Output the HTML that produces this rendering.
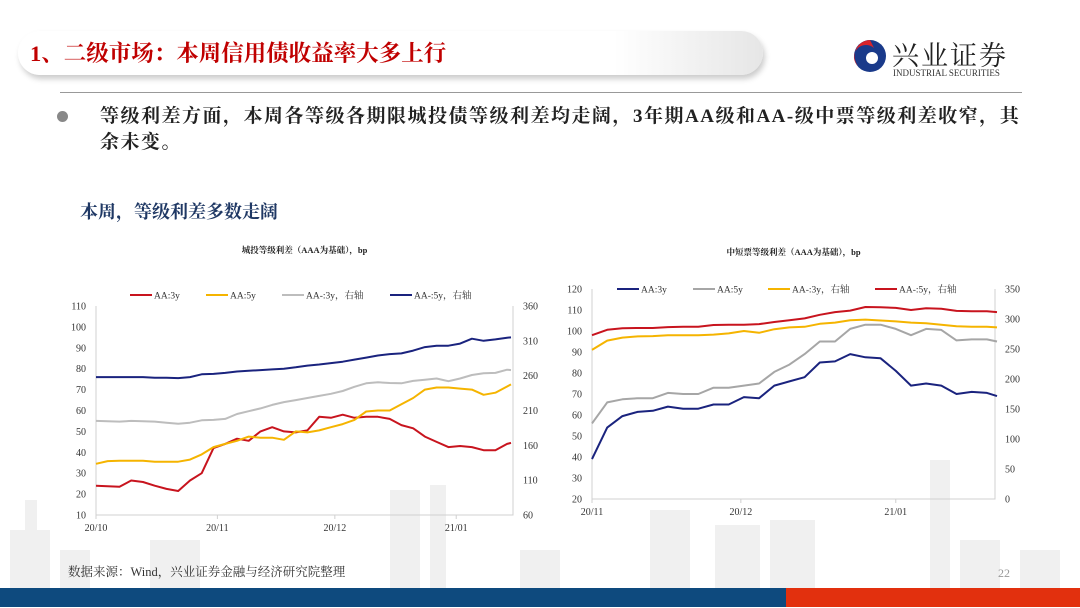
<!DOCTYPE html>
<html><head><meta charset="utf-8">
<style>
body{margin:0;width:1080px;height:608px;overflow:hidden;background:#fff;position:relative;font-family:"Liberation Serif","Noto Serif CJK SC",serif;}
.abs{position:absolute;}
</style></head>
<body>
<!-- skyline background -->
<svg class="abs" style="left:0;top:440px" width="1080" height="150">
<g fill="#f0f0f0">
<rect x="10" y="90" width="40" height="60"/><rect x="25" y="60" width="12" height="40"/><rect x="60" y="110" width="30" height="40"/>
<rect x="150" y="100" width="50" height="50"/><rect x="390" y="50" width="30" height="100"/>
<rect x="430" y="45" width="16" height="105"/><rect x="520" y="110" width="40" height="40"/>
<rect x="650" y="70" width="40" height="80"/><rect x="715" y="85" width="45" height="65"/><rect x="770" y="80" width="45" height="70"/>
<rect x="930" y="20" width="20" height="130"/><rect x="960" y="100" width="40" height="50"/>
<rect x="1020" y="110" width="40" height="40"/></g></svg>

<!-- header pill -->
<div class="abs" style="left:18px;top:31px;width:745px;height:44px;border-radius:22px;background:linear-gradient(90deg,#fff 80%,#e6e6e6 100%);box-shadow:2px 4px 6px #ccc;"></div>
<div class="abs" style="left:30px;top:36px;font-size:22.5px;color:#c00000;font-weight:bold;font-family:'Liberation Serif','Noto Serif CJK SC',serif;">1、二级市场：本周信用债收益率大多上行</div>
<!-- logo -->
<svg class="abs" style="left:852px;top:36px" width="36" height="40">
<circle cx="18" cy="20" r="16" fill="#1a3a8a"/><path d="M18 4 A16 16 0 0 0 6 30 A12 12 0 0 1 22 12 Z" fill="#d8232a"/><circle cx="20" cy="22" r="6" fill="#fff"/></svg>
<div class="abs" style="left:892px;top:34px;font-size:27px;color:#222;font-family:'Noto Serif CJK SC',serif;letter-spacing:2px;">兴业证券</div>
<div class="abs" style="left:893px;top:68px;font-size:9px;color:#333;">INDUSTRIAL SECURITIES</div>
<div class="abs" style="left:60px;top:92px;width:962px;height:1px;background:#999;"></div>
<!-- bullet -->
<div class="abs" style="left:57px;top:111px;width:11px;height:11px;border-radius:50%;background:#888;"></div>
<div class="abs" style="left:100px;top:104px;width:922px;font-size:19px;letter-spacing:1.5px;line-height:26px;font-weight:bold;color:#222;">等级利差方面，本周各等级各期限城投债等级利差均走阔，3年期AA级和AA-级中票等级利差收窄，其余未变。</div>
<div class="abs" style="left:80px;top:198px;font-size:18px;font-weight:bold;color:#1f3864;">本周，等级利差多数走阔</div>

<svg class="abs" id="charts" style="left:0;top:0" width="1080" height="608" font-family="Liberation Serif, Noto Serif CJK SC, serif"></svg>

<div class="abs" style="left:68px;top:562px;font-size:12.5px;color:#333;">数据来源：Wind，兴业证券金融与经济研究院整理</div>
<div class="abs" style="left:998px;top:566px;font-size:12px;color:#999;">22</div>
<div class="abs" style="left:0;top:588px;width:786px;height:19px;background:#0e4a7e;"></div>
<div class="abs" style="left:786px;top:588px;width:294px;height:19px;background:#e2300e;"></div>

<script>
// ---- Left chart data (城投) ----
const L_days = [0,3,6,9,12,15,18,21,24,27,30,33,36,39,42,45,48,51,54,57,60,63,66,69,72,75,78,81,84,87,90,93,96,99,102,105,106];
const L_AA3y = [24,23.8,23.5,26.5,25.8,24,22.5,21.5,26.5,30,42,44,46.5,45.5,50,52,50,49.5,50.5,57,56.5,58,56.5,57,57,56,53,51.5,47.5,45,42.5,43,42.5,41,41,44,44.5];
const L_AA5y = [34.5,35.8,36,36,36,35.5,35.5,35.5,36.5,39,42.5,44,45.5,47.5,47,47,46,50,49.5,50.5,52,53.5,55.5,59.5,60,60,63,66,70,71,71,70.5,70,67.5,68.5,71.5,72.5];
const L_AAm3y = [195,194.5,194,195,194.5,194,192.5,191,192.5,196,196.5,198,205,209,213,218,222,225,228,231,234,238,244,249,250.5,249.5,249,252.5,254,256,252,256,261,263.5,264,268.5,268];
const L_AAm5y = [258,258,258,258,258,257,257,256.5,258,262,262.5,264,266,267,268,269,270,272,274.5,276,278,280,283,286,289,291,292,296,301,303,303,306,313,310,312,314.5,315];
const L_leftTicks = [10,20,30,40,50,60,70,80,90,100,110];
const L_rightTicks = [60,110,160,210,260,310,360];
const L_xTickDays = [0,31,61,92];
const L_xTickLabels = ["20/10","20/11","20/12","21/01"];
// ---- Right chart data (中短票) ----
const R_days = [0,3,6,9,12,15,18,21,24,27,30,33,36,39,42,45,48,51,54,57,60,63,66,69,72,75,78,80];
const R_AA3y = [39,54,59.5,61.5,62,64,63,63,65,65,68.5,68,74,76,78,85,85.5,89,87.5,87,81,74,75,74,70,71,70.5,69];
const R_AA5y = [56,66,67.5,68,68,70.5,70,70,73,73,74,75,80.5,84,89,95,95,101,103,103,101,98,101,100.5,95.5,96,96,95];
const R_AAm3y = [248.5,264,269,271,271.5,273,273,273,274,276,280,277,283,286,287,292,294,298,299,297.5,296,294,293,290.5,288,287,287,286];
const R_AAm5y = [273,282,284.5,285,285,286.5,287,287,290,290.5,290.5,291.5,295,298,301,307,311.5,314,320,319.5,318.5,315,318,317,313.5,313,313,311.5];
const R_leftTicks = [20,30,40,50,60,70,80,90,100,110,120];
const R_rightTicks = [0,50,100,150,200,250,300,350];
const R_xTickDays = [0,29.4,60];
const R_xTickLabels = ["20/11","20/12","21/01"];

const NS="http://www.w3.org/2000/svg";
const svg=document.getElementById('charts');
function mk(tag,attrs,parent){const e=document.createElementNS(NS,tag);for(const k in attrs)e.setAttribute(k,attrs[k]);(parent||svg).appendChild(e);return e;}
function txt(x,y,s,size,anchor,parent,fill,weight){const t=mk('text',{x:x,y:y,'font-size':size,'text-anchor':anchor||'start',fill:fill||'#333'},parent);if(weight)t.setAttribute('font-weight',weight);t.textContent=s;return t;}

function chart(cfg){
  const g=mk('g',{});
  
  
  const xs=d=>cfg.x0+(d-cfg.dmin)/(cfg.dmax-cfg.dmin)*(cfg.x1-cfg.x0);
  const yl=v=>cfg.y1-(v-cfg.lmin)/(cfg.lmax-cfg.lmin)*(cfg.y1-cfg.y0);
  const yr=v=>cfg.y1-(v-cfg.rmin)/(cfg.rmax-cfg.rmin)*(cfg.y1-cfg.y0);
  const t=txt((cfg.x0+cfg.x1)/2,cfg.titleY,cfg.title,8.5,'middle',g,'#222','bold');
  
  
  const ax=mk('path',{d:`M${cfg.x0} ${cfg.y0}V${cfg.y1}H${cfg.x1}V${cfg.y0}`,stroke:'#d0d0d0',fill:'none','stroke-width':1},g);
  
  
  cfg.lt.forEach(v=>{const e=txt(cfg.x0-10,yl(v)+3.5,String(v),10,'end',g);});
  cfg.rt.forEach(v=>{const e=txt(cfg.x1+10,yr(v)+3.5,String(v),10,'start',g);});
  cfg.xd.forEach((d,i)=>{mk('line',{x1:xs(d),x2:xs(d),y1:cfg.y1,y2:cfg.y1+4,stroke:'#d0d0d0'},g);const e=txt(xs(d),cfg.y1+16,cfg.xl[i],10,'middle',g);});
  cfg.series.forEach(s=>{
    const sc=s.right?yr:yl;
    const p=mk('polyline',{points:cfg.days.map((d,i)=>xs(d).toFixed(1)+','+sc(s.v[i]).toFixed(1)).join(' '),fill:'none',stroke:s.c,'stroke-width':2,'stroke-linejoin':'round'},g);
    
    
    const lg=mk('g',{},g);
    
    
    mk('line',{x1:s.lx,x2:s.lx+22,y1:cfg.ly,y2:cfg.ly,stroke:s.c,'stroke-width':2},lg);
    txt(s.lx+24,cfg.ly+3.5,s.label,9.5,'start',lg);
  });
}
chart({name:'chengtou-spread-chart',title:'城投等级利差（AAA为基础），bp',titleY:253,x0:96,x1:513,y0:306,y1:515,dmin:0,dmax:106.5,lmin:10,lmax:110,rmin:60,rmax:360,
  lt:L_leftTicks,rt:L_rightTicks,xd:L_xTickDays,xl:L_xTickLabels,days:L_days,ly:295,
  series:[{id:'aa-3y',label:'AA:3y',v:L_AA3y,c:'#c8141e',lx:130},{id:'aa-5y',label:'AA:5y',v:L_AA5y,c:'#f5b400',lx:206},
  {id:'aa-minus-3y',label:'AA-:3y，右轴',v:L_AAm3y,c:'#bdbdbd',right:true,lx:282},{id:'aa-minus-5y',label:'AA-:5y，右轴',v:L_AAm5y,c:'#1a237e',right:true,lx:390}]});
chart({name:'mtn-spread-chart',title:'中短票等级利差（AAA为基础），bp',titleY:255,x0:592,x1:995,y0:289,y1:499,dmin:0,dmax:79.6,lmin:20,lmax:120,rmin:0,rmax:350,
  lt:R_leftTicks,rt:R_rightTicks,xd:R_xTickDays,xl:R_xTickLabels,days:R_days,ly:289,
  series:[{id:'aa-3y',label:'AA:3y',v:R_AA3y,c:'#1a237e',lx:617},{id:'aa-5y',label:'AA:5y',v:R_AA5y,c:'#a6a6a6',lx:693},
  {id:'aa-minus-3y',label:'AA-:3y，右轴',v:R_AAm3y,c:'#f5b400',right:true,lx:768},{id:'aa-minus-5y',label:'AA-:5y，右轴',v:R_AAm5y,c:'#c8141e',right:true,lx:875}]});
</script>
</body></html>
